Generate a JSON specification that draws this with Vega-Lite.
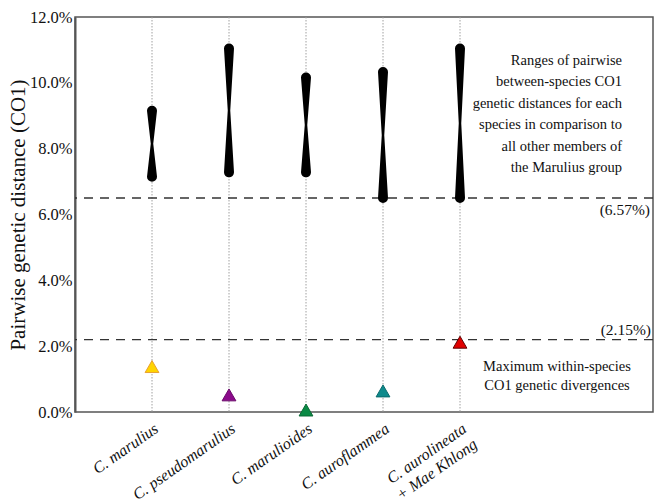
{
  "$schema": "https://vega.github.io/schema/vega-lite/v6.json",
  "width": 578,
  "height": 395,
  "autosize": {"type": "none"},
  "padding": {"left": 75, "top": 17, "right": 9, "bottom": 91},
  "background": "white",
  "config": {
    "view": {"stroke": "#555", "strokeWidth": 1.5},
    "font": "Liberation Serif"
  },
  "datasets": {
    "ranges": [
      {"species": "C. marulius", "value": 7.15, "kind": "end"},
      {"species": "C. marulius", "value": 8.15, "kind": "waist"},
      {"species": "C. marulius", "value": 9.15, "kind": "end"},
      {"species": "C. pseudomarulius", "value": 7.28, "kind": "end"},
      {"species": "C. pseudomarulius", "value": 9.16, "kind": "waist"},
      {"species": "C. pseudomarulius", "value": 11.04, "kind": "end"},
      {"species": "C. marulioides", "value": 7.28, "kind": "end"},
      {"species": "C. marulioides", "value": 8.72, "kind": "waist"},
      {"species": "C. marulioides", "value": 10.16, "kind": "end"},
      {"species": "C. auroflammea", "value": 6.5, "kind": "end"},
      {"species": "C. auroflammea", "value": 8.41, "kind": "waist"},
      {"species": "C. auroflammea", "value": 10.33, "kind": "end"},
      {"species": "C. aurolineata + Mae Khlong", "value": 6.5, "kind": "end"},
      {"species": "C. aurolineata + Mae Khlong", "value": 8.77, "kind": "waist"},
      {"species": "C. aurolineata + Mae Khlong", "value": 11.04, "kind": "end"}
    ],
    "within": [
      {"species": "C. marulius", "value": 1.38},
      {"species": "C. pseudomarulius", "value": 0.52},
      {"species": "C. marulioides", "value": 0.06},
      {"species": "C. auroflammea", "value": 0.64},
      {"species": "C. aurolineata + Mae Khlong", "value": 2.12}
    ],
    "thresholds": [
      {"label": "(6.57%)", "value": 6.5},
      {"label": "(2.15%)", "value": 2.2}
    ]
  },
  "encoding": {
    "x": {
      "field": "species",
      "type": "nominal",
      "sort": null,
      "scale": {
        "type": "band",
        "domain": ["C. marulius", "C. pseudomarulius", "C. marulioides", "C. auroflammea", "C. aurolineata + Mae Khlong"],
        "paddingInner": 0,
        "paddingOuter": 0.5,
        "range": [0, 462]
      },
      "axis": {
        "title": null,
        "domain": false,
        "ticks": false,
        "labelAngle": -35,
        "labelAlign": "right",
        "labelBaseline": "top",
        "labelPadding": 8,
        "labelFont": "Liberation Serif",
        "labelFontStyle": "italic",
        "labelFontSize": 16,
        "labelLineHeight": 19,
        "labelColor": "#111",
        "labelExpr": "datum.value == 'C. aurolineata + Mae Khlong' ? ['C. aurolineata', '+ Mae Khlong'] : datum.value"
      }
    }
  },
  "layer": [
    {
      "data": {"name": "within"},
      "mark": {"type": "rule", "stroke": "#a0a0a0", "strokeWidth": 1, "strokeDash": [1.5, 1.5]},
      "encoding": {}
    },
    {
      "data": {"name": "thresholds"},
      "mark": {"type": "rule", "stroke": "#333", "strokeWidth": 1.4, "strokeDash": [9, 7]},
      "encoding": {
        "x": null,
        "y": {
          "field": "value",
          "type": "quantitative",
          "scale": {"domain": [0, 12], "nice": false},
          "axis": {
            "title": "Pairwise genetic distance (CO1)",
            "titleFont": "Liberation Serif",
            "titleFontSize": 21,
            "titleFontWeight": "normal",
            "titleColor": "#111",
            "titlePadding": 1,
            "values": [0, 2, 4, 6, 8, 10, 12],
            "labelExpr": "format(datum.value, '.1f') + '%'",
            "labelFont": "Liberation Serif",
            "labelFontSize": 16.5,
            "labelColor": "#111",
            "labelPadding": 3,
            "ticks": false,
            "grid": false,
            "domainColor": "#555",
            "domainWidth": 2
          }
        }
      }
    },
    {
      "data": {"name": "thresholds"},
      "transform": [{"filter": "datum.label == '(6.57%)'"}],
      "mark": {"type": "text", "align": "right", "baseline": "top", "dx": 190, "dy": 5, "fontSize": 15.5, "font": "Liberation Serif", "color": "#111"},
      "encoding": {
        "x": {"datum": "C. aurolineata + Mae Khlong"},
        "y": {"field": "value", "type": "quantitative"},
        "text": {"field": "label"}
      }
    },
    {
      "data": {"name": "thresholds"},
      "transform": [{"filter": "datum.label == '(2.15%)'"}],
      "mark": {"type": "text", "align": "right", "baseline": "bottom", "dx": 191, "dy": -2, "fontSize": 15.5, "font": "Liberation Serif", "color": "#111"},
      "encoding": {
        "x": {"datum": "C. aurolineata + Mae Khlong"},
        "y": {"field": "value", "type": "quantitative"},
        "text": {"field": "label"}
      }
    },
    {
      "data": {"name": "ranges"},
      "mark": {"type": "trail", "color": "black"},
      "encoding": {
        "y": {"field": "value", "type": "quantitative"},
        "detail": {"field": "species"},
        "order": {"field": "value", "type": "quantitative"},
        "size": {
          "field": "kind",
          "type": "nominal",
          "scale": {"type": "ordinal", "domain": ["end", "waist"], "range": [10, 2.5]},
          "legend": null
        }
      }
    },
    {
      "data": {"name": "within"},
      "mark": {"type": "point", "shape": "triangle-up", "filled": true, "size": 190, "opacity": 1, "strokeWidth": 1},
      "encoding": {
        "y": {"field": "value", "type": "quantitative"},
        "fill": {
          "field": "species",
          "type": "nominal",
          "scale": {
            "domain": ["C. marulius", "C. pseudomarulius", "C. marulioides", "C. auroflammea", "C. aurolineata + Mae Khlong"],
            "range": ["#FFD400", "#8B0A8B", "#0A8A45", "#0E8A8C", "#E00000"]
          },
          "legend": null
        },
        "stroke": {
          "field": "species",
          "type": "nominal",
          "scale": {
            "domain": ["C. marulius", "C. pseudomarulius", "C. marulioides", "C. auroflammea", "C. aurolineata + Mae Khlong"],
            "range": ["#E8A030", "#6A0A6A", "#0A6A35", "#0A6A6C", "#600000"]
          },
          "legend": null
        }
      }
    },
    {
      "data": {"values": [{"note": "ranges"}]},
      "mark": {"type": "text", "align": "right", "baseline": "middle", "dx": 162, "fontSize": 14.5, "lineHeight": 21.5, "font": "Liberation Serif", "color": "#111", "lineBreak": "\n",
        "text": "Ranges of pairwise\nbetween-species CO1\ngenetic distances for each\nspecies in comparison to\nall other members of\nthe Marulius group"},
      "encoding": {
        "x": {"datum": "C. aurolineata + Mae Khlong"},
        "y": {"datum": 10.67}
      }
    },
    {
      "data": {"values": [{"note": "within"}]},
      "mark": {"type": "text", "align": "center", "baseline": "middle", "dx": 97, "fontSize": 14.5, "lineHeight": 19, "font": "Liberation Serif", "color": "#111", "lineBreak": "\n",
        "text": "Maximum within-species\nCO1 genetic divergences"},
      "encoding": {
        "x": {"datum": "C. aurolineata + Mae Khlong"},
        "y": {"datum": 1.36}
      }
    }
  ]
}
